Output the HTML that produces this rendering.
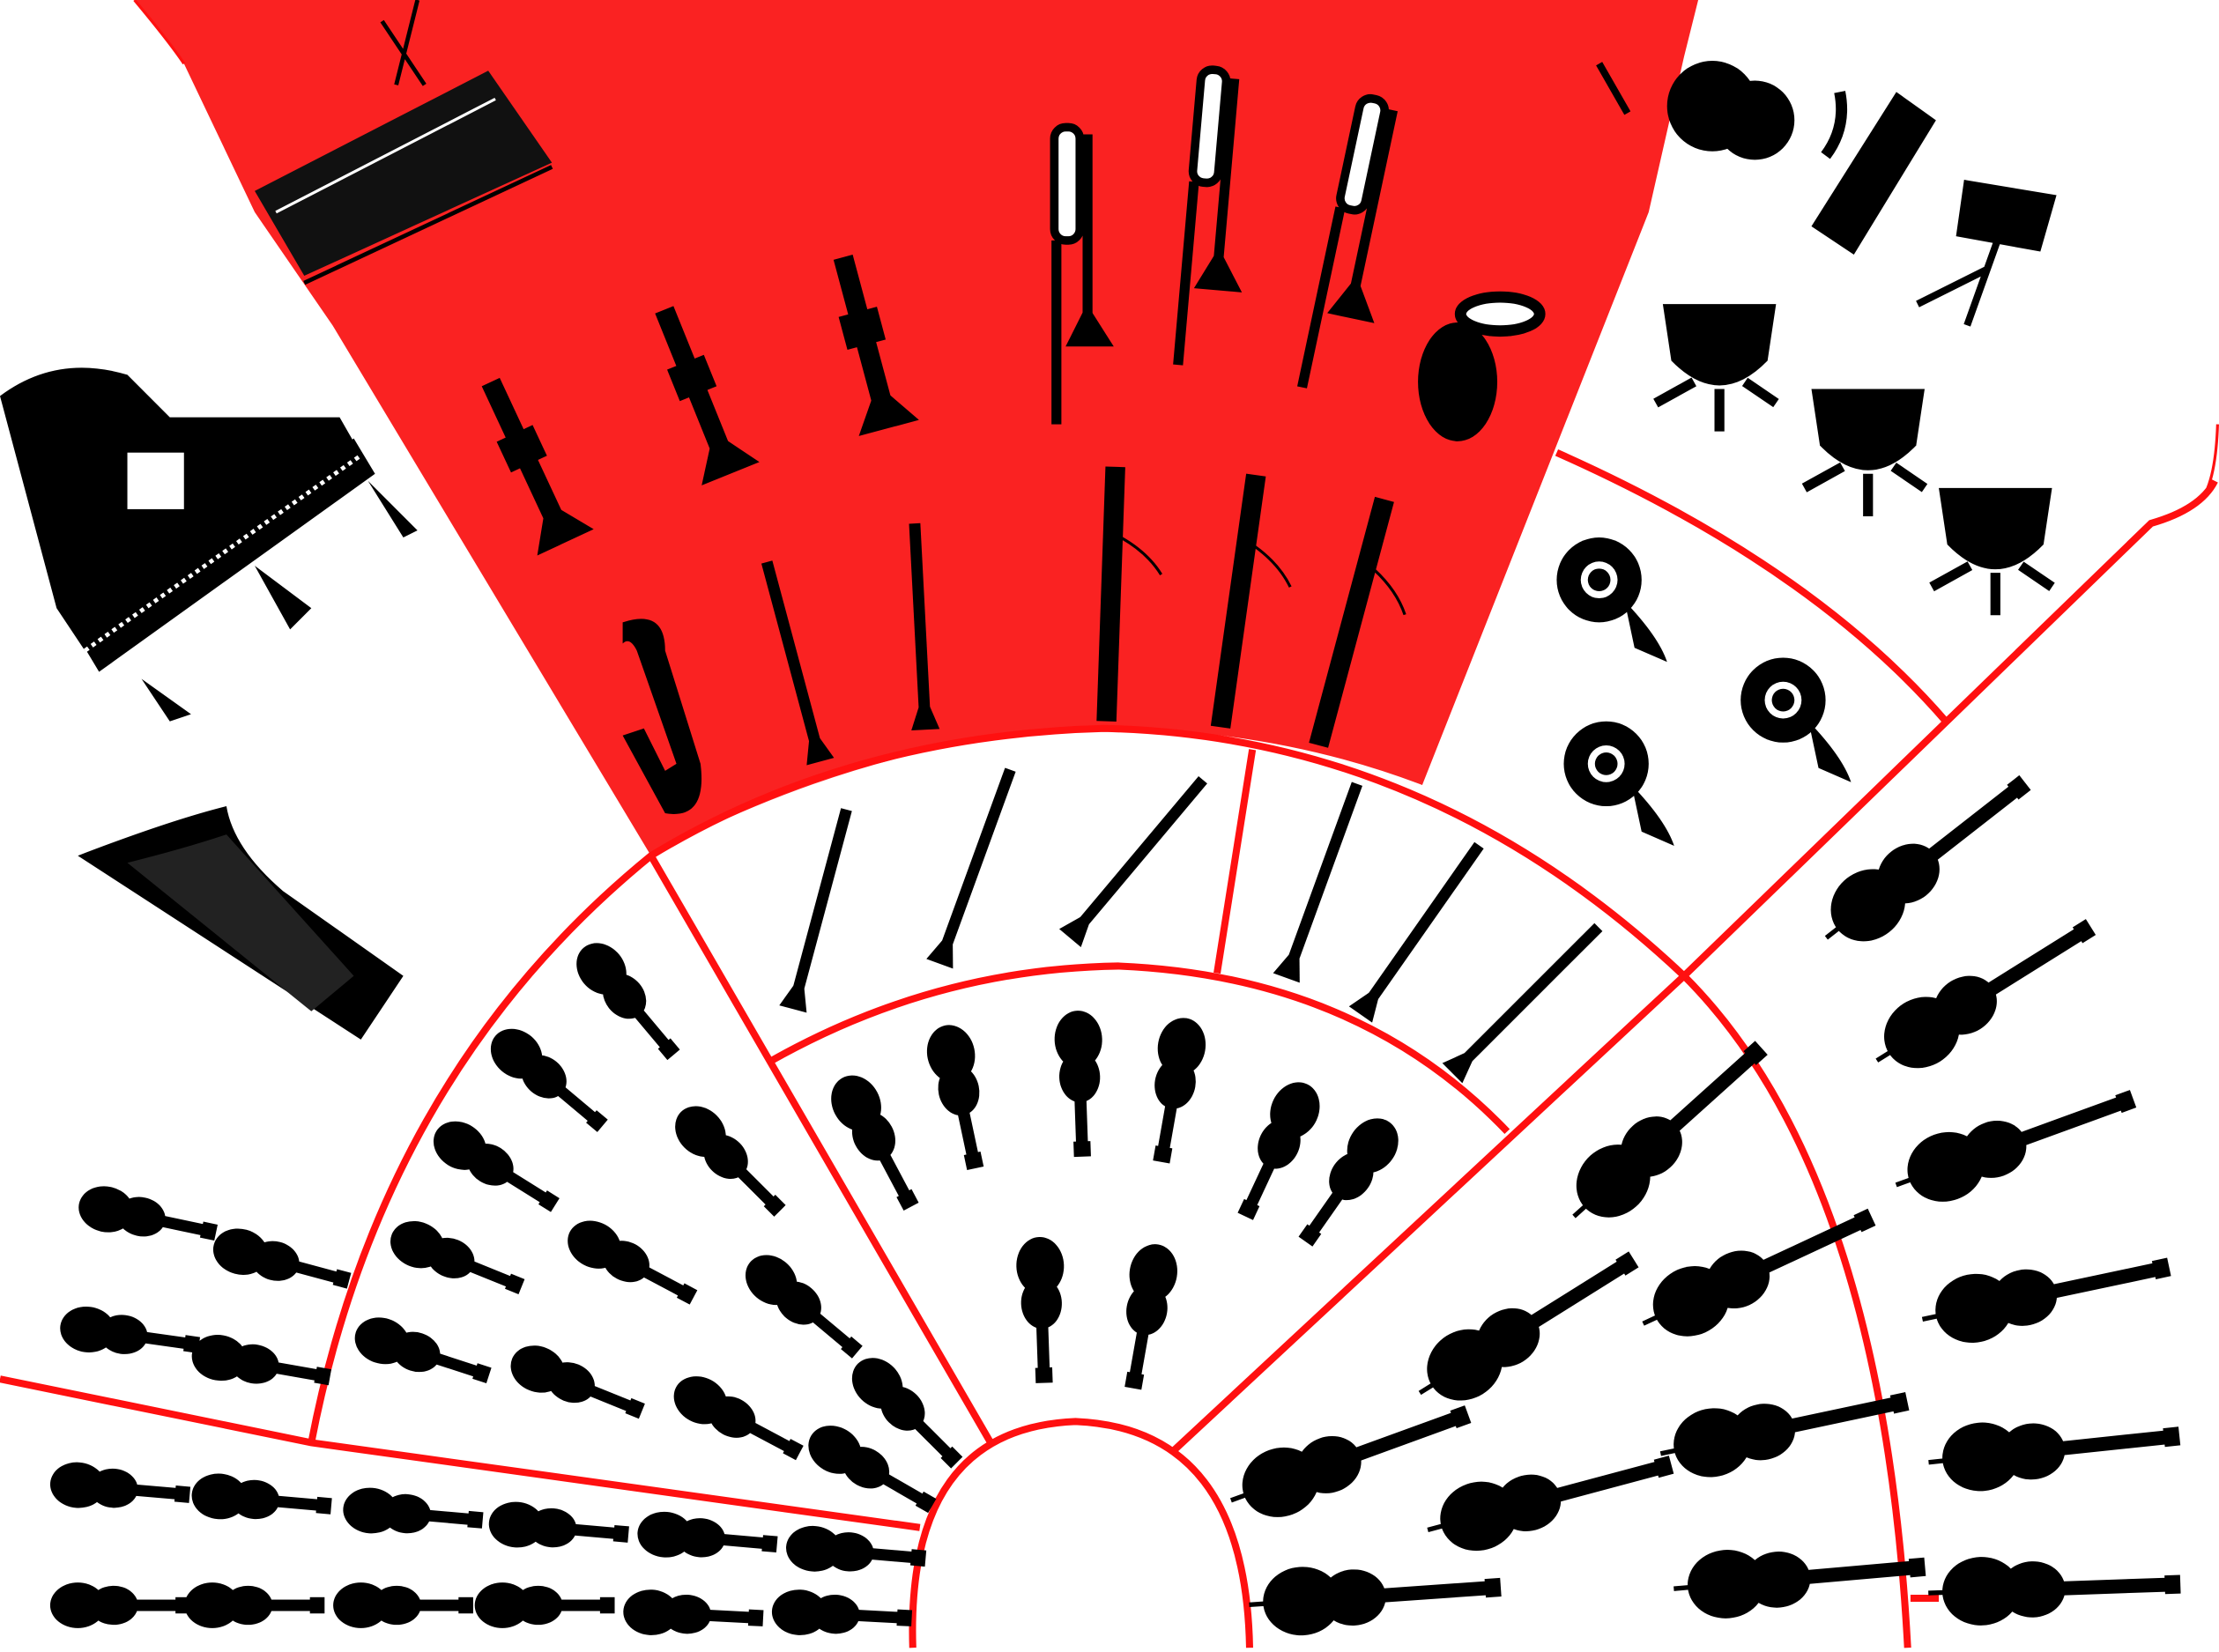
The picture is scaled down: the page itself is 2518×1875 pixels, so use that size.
<!DOCTYPE html>
<html><head><meta charset="utf-8"><style>
html,body{margin:0;padding:0;background:#fff;overflow:hidden}
svg{display:block}
</style></head><body>
<svg id="stage" width="2518" height="1875" viewBox="0 0 1568 1168" preserveAspectRatio="none" xmlns="http://www.w3.org/2000/svg">
<defs>
<g id="violin"><ellipse cx="0" cy="0" rx="17" ry="14"/><ellipse cx="22" cy="0" rx="15" ry="12"/><rect x="6" y="-7" width="14" height="14"/><rect x="30" y="-3.5" width="34" height="7"/><rect x="60" y="-5" width="9" height="10"/></g>
<g id="cello"><ellipse cx="0" cy="0" rx="25" ry="22"/><ellipse cx="33" cy="0" rx="21" ry="18"/><rect x="10" y="-11" width="22" height="22"/><rect x="48" y="-4.5" width="75" height="9"/><rect x="118" y="-6" width="10" height="12"/><rect x="-34" y="-1.5" width="14" height="3"/></g>
<g id="trumpet"><rect x="-7" y="-55" width="14" height="110"/><rect x="-14" y="-15" width="28" height="24"/><path d="M-7 48 L-22 70 L22 70 L7 48Z"/></g>
<g id="trombone"><rect x="-20" y="-105" width="18" height="80" rx="8" fill="#fff" stroke="#000" stroke-width="6"/><rect x="-22" y="-25" width="7" height="130"/><rect x="0" y="-100" width="7" height="130"/><path d="M3 20 L-12 50 L22 50 Z"/></g>
<g id="clarinet"><rect x="-4" y="-70" width="8" height="140"/><path d="M-4 60 L-10 76 L10 76 L4 60Z"/></g>
<g id="bassoon"><rect x="-7" y="-90" width="14" height="180"/><path d="M6 -40 Q25 -30 35 -15" fill="none" stroke="#000" stroke-width="2"/></g>
<g id="timpani"><path d="M-40 -25 L40 -25 L34 15 Q0 50 -34 15Z"/><path d="M-18 30 L-45 45 M18 30 L40 45 M0 35 L0 65" stroke="#000" stroke-width="7" fill="none"/></g>
<g id="horn"><circle cx="0" cy="0" r="30"/><circle cx="0" cy="0" r="13" fill="#fff"/><circle cx="0" cy="0" r="8"/><path d="M18 15 Q42 40 48 58 L25 48Z"/></g>
</defs>

<path fill="#fa2222" d="M95 0 L1200 0 L1190 40 L1165 150 L1005 555 Q900 515 780 515 Q620 520 460 605 L235 230 L180 150 L130 45 Z"/>

<g fill="none" stroke="#ff1010" stroke-width="5">
<path d="M220 1020 Q270 760 460 605 Q600 520 780 515 Q1010 520 1190 690 Q1330 830 1348 1165"/>
<path d="M545 750 Q660 685 790 683 Q960 690 1065 800"/>
<path d="M645 1165 Q640 1010 760 1005 Q880 1010 883 1165"/>
<path d="M460 605 L700 1020"/>
<path d="M885 530 L860 688"/>
<path d="M1565 340 Q1555 360 1520 370 L1190 690 L830 1025"/>
<path d="M1100 320 Q1280 400 1375 510"/>
<path d="M0 975 Q120 1000 220 1020 L650 1080"/>
<path d="M1350 1130 L1370 1130"/>
<path d="M95 0 Q120 30 130 45" stroke-width="2"/>
<path d="M1567 300 Q1566 330 1560 345" stroke-width="2"/>
</g>

<g id="instruments" fill="#000"></g>

<g>
<path d="M0 280 Q40 250 90 265 L120 295 L240 295 L260 330 L60 460 L40 430 Z" fill="#000"/>
<rect x="90" y="320" width="40" height="40" fill="#fff"/>
<path d="M55 450 L250 310 L265 335 L70 475Z" fill="#000"/>
<path d="M60 460 L255 322" stroke="#fff" stroke-width="3" stroke-dasharray="3 3"/>
<path d="M180 400 L220 430 L205 445 Z M100 480 L135 505 L120 510Z M260 340 L295 375 L285 380Z" fill="#000"/>
</g>
<g>
<path d="M55 605 Q120 580 160 570 Q165 600 200 630 L285 690 L255 735 Z" fill="#000"/>
<path d="M90 610 Q130 600 160 590 L250 690 L220 715Z" fill="#222"/>
</g>
<g>
<path d="M180 135 L345 50 L390 115 L215 195Z" fill="#111"/>
<path d="M195 150 L350 70" stroke="#fff" stroke-width="2"/>
<path d="M215 200 L390 118" stroke="#000" stroke-width="3"/>
<path d="M270 15 L300 60 M295 0 L280 60" stroke="#000" stroke-width="3"/>
</g>
<g>
<ellipse cx="1030" cy="270" rx="28" ry="42" fill="#000"/>
<ellipse cx="1060" cy="222" rx="28" ry="12" fill="#fff" stroke="#000" stroke-width="8"/>
</g>
<g>
<circle cx="1210" cy="75" r="32" fill="#000"/><circle cx="1240" cy="85" r="28" fill="#000"/>
<path d="M1280 160 L1340 65 L1368 85 L1310 180Z" fill="#000"/>
<path d="M1390 130 L1450 140 L1440 175 L1385 165Z M1415 160 L1390 230 M1405 190 L1355 215 M1130 45 L1150 80" stroke="#000" stroke-width="5"/>
<path d="M1300 65 Q1305 90 1290 110" stroke="#000" stroke-width="8" fill="none"/>
</g>
</svg>
<script>
const NS = 'http://www.w3.org/2000/svg';
const g = document.getElementById('instruments');
const violinsA = [[75,855,12],[170,885,15],[62,940,8],[155,960,10],[55,1050,5],[155,1058,5],[262,1068,5],[365,1078,5],[470,1085,5],[575,1095,5],[55,1135,0],[150,1135,0],[255,1135,0],[355,1135,0],[460,1140,3],[565,1140,3]];
const violinsB = [[425,685,50],[365,745,40],[325,810,32],[295,880,22],[270,948,18],[380,968,22],[420,880,28],[495,800,45],[545,905,40],[620,978,45],[495,990,28],[590,1025,30]];
const violas = [[605,780,62],[672,745,78],[762,735,88],[835,740,100],[915,785,115],[970,810,125],[735,895,88],[815,900,100]];
const cellos = [[1320,640,-38],[1358,730,-32],[1375,825,-20],[1395,925,-12],[1400,1030,-6],[1400,1125,-2],[1140,835,-42],[1195,920,-25],[1210,1020,-12],[1220,1120,-5],[1035,965,-32],[1045,1072,-15],[905,1048,-20],[920,1132,-4]];
const trumpets = [[370,320,-25],[490,270,-22],[610,235,-15]];
const trombones = [[765,195,0],[860,155,5],[960,175,12]];
const clarinets = [[560,465,-15],[650,440,-3],[580,640,15],[690,610,20],[805,605,40],[935,620,20],[1005,655,35],[1080,705,45]];
const bassoons = [[785,420,2],[875,425,8],[955,440,15]];
const timps = [[1215,240,0],[1320,300,0],[1410,370,0]];
const horns = [[1130,410,0],[1260,495,0],[1135,540,0]];
function place(list, sym, sc, name){
  list.forEach(p=>{
    const u = document.createElementNS(NS,'use');
    u.setAttribute('href','#'+sym);
    u.setAttribute('transform',`translate(${p[0]},${p[1]}) rotate(${p[2]}) scale(${sc})`);
    
    
    g.appendChild(u);
  });
}
place(violinsA,'violin',1.15,'violin');
place(violinsB,'violin',1.15,'violin');
place(violas,'violin',1.2,'viola');
place(cellos,'cello',1.1,'cello');
place(trumpets,'trumpet',1,'trumpet');
place(trombones,'trombone',1,'trombone');
place(clarinets,'clarinet',1,'clarinet');
place(bassoons,'bassoon',1,'bassoon');
place(timps,'timpani',1,'timpani');
place(horns,'horn',1,'french-horn');
const sax = document.createElementNS(NS,'path');
sax.setAttribute('d','M440 440 Q470 430 470 460 L495 540 Q500 580 470 575 L440 520 L455 515 L470 545 L478 540 L450 460 Q445 450 440 455Z');


g.appendChild(sax);
</script>
</body></html>
